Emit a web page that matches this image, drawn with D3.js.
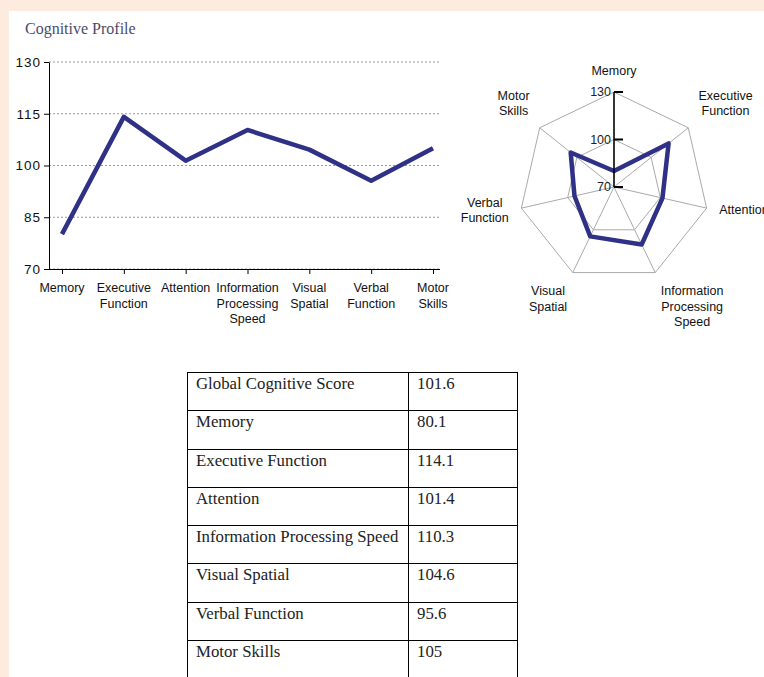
<!DOCTYPE html>
<html lang="en">
  <head>
    <meta charset="utf-8">
    <title>Cognitive Profile</title>
    <script src="https://cdn.jsdelivr.net/npm/d3@7"></script>
    <style>
      body { margin: 0; background: #fdebe0; overflow: hidden; }
      #panel { position: absolute; left: 9px; top: 11px; width: 800px; height: 700px; background: #fff; }
      #title { position: absolute; left: 16px; top: 9px; font: 16px "Liberation Serif", serif; color: #4b4b6b; }
      svg { position: absolute; left: 0; top: 0; }
      table { position: absolute; left: 187px; top: 372px; border-collapse: collapse;
              font: 16.8px "Liberation Serif", serif; color: #222; }
      td { border: 1px solid #000; height: 38.3px; padding: 1px 8px 0 8px; vertical-align: top;
           box-sizing: border-box; white-space: nowrap; }
    </style>
  </head>
  <body>
    <div id="panel"><div id="title">Cognitive Profile</div></div>
    <script>
      // data
      var domains = ["Memory", "Executive Function", "Attention", "Information Processing Speed",
                     "Visual Spatial", "Verbal Function", "Motor Skills"];
      var lineLabels = [["Memory"], ["Executive", "Function"], ["Attention"], ["Information", "Processing", "Speed"],
                        ["Visual", "Spatial"], ["Verbal", "Function"], ["Motor", "Skills"]];
      var scores = [80.1, 114.1, 101.4, 110.3, 104.6, 95.6, 105];
      var yTicks = [70, 85, 100, 115, 130];
      var radarTicks = [70, 100, 130];
      var tableLabels = ["Global Cognitive Score", "Memory", "Executive Function", "Attention",
                         "Information Processing Speed", "Visual Spatial", "Verbal Function", "Motor Skills"];
      var tableValues = ["101.6", "80.1", "114.1", "101.4", "110.3", "104.6", "95.6", "105"];

      var lineColor = "#2e3185";
      var sans = '"Liberation Sans", Arial, sans-serif';

      var svg = d3.select("body").append("svg")
                  .attr("width", 764)
                  .attr("height", 677);

      // ---- line chart ----
      var x = d3.scalePoint().domain(domains).range([62, 433]);
      var y = d3.scaleLinear().domain([70, 130]).range([269, 62]);

      svg.append("g").selectAll("line")
         .data(yTicks)
         .enter().append("line")
         .attr("x1", 49).attr("x2", 440)
         .attr("y1", function(d) { return y(d); })
         .attr("y2", function(d) { return y(d); })
         .attr("stroke", "#999")
         .attr("stroke-dasharray", "2,2");

      var yAxis = svg.append("g")
         .attr("transform", "translate(49,0)")
         .call(d3.axisLeft(y).tickValues(yTicks).tickSize(5).tickSizeOuter(0));
      yAxis.select(".domain").attr("stroke", "#000");
      yAxis.selectAll("text")
         .style("font", "13.5px " + sans)
         .style("letter-spacing", "1px")
         .attr("x", -8)
         .attr("fill", "#111");

      var xAxis = svg.append("g")
         .attr("transform", "translate(0,269)")
         .call(d3.axisBottom(x).tickSize(5).tickSizeOuter(0).tickFormat(""));
      xAxis.select(".domain").remove();
      svg.append("line")
         .attr("x1", 49).attr("x2", 440)
         .attr("y1", 269.5).attr("y2", 269.5)
         .attr("stroke", "#000");

      var xl = svg.append("g").selectAll("text")
         .data(domains)
         .enter().append("text")
         .attr("x", function(d) { return x(d); })
         .attr("y", 292)
         .attr("text-anchor", "middle")
         .style("font", "12.5px " + sans)
         .attr("fill", "#111");
      xl.each(function(d, i) {
        var t = d3.select(this);
        lineLabels[i].forEach(function(s, j) {
          t.append("tspan").attr("x", x(d)).attr("dy", j === 0 ? 0 : 15.5).text(s);
        });
      });

      svg.append("path")
         .datum(scores)
         .attr("fill", "none")
         .attr("stroke", lineColor)
         .attr("stroke-width", 4.5)
         .attr("stroke-linejoin", "round")
         .attr("d", d3.line()
            .x(function(d, i) { return x(domains[i]); })
            .y(function(d) { return y(d); }));

      // ---- radar chart ----
      var cx = 614, cy = 187;
      var r = d3.scaleLinear().domain([70, 130]).range([0, 95]);
      var angle = d3.scalePoint().domain(domains).range([0, 2 * Math.PI * 6 / 7]);
      function px(d, v) { return cx + r(v) * Math.sin(angle(d)); }
      function py(d, v) { return cy - r(v) * Math.cos(angle(d)); }

      var radar = svg.append("g");
      [100, 130].forEach(function(v) {
        radar.append("polygon")
             .attr("points", domains.map(function(d) { return px(d, v) + "," + py(d, v); }).join(" "))
             .attr("fill", "none")
             .attr("stroke", "#aaa");
      });
      radar.selectAll(".spoke")
           .data(domains)
           .enter().append("line")
           .attr("x1", cx).attr("y1", cy)
           .attr("x2", function(d) { return px(d, 130); })
           .attr("y2", function(d) { return py(d, 130); })
           .attr("stroke", "#aaa");

      radar.append("polygon")
           .attr("points", domains.map(function(d, i) { return px(d, scores[i]) + "," + py(d, scores[i]); }).join(" "))
           .attr("fill", "none")
           .attr("stroke", lineColor)
           .attr("stroke-width", 4.5)
           .attr("stroke-linejoin", "round");

      // vertical value axis
      radar.append("line")
           .attr("x1", cx).attr("x2", cx)
           .attr("y1", cy).attr("y2", cy - r(130))
           .attr("stroke", "#000").attr("stroke-width", 1.5);
      radar.selectAll(".rtick")
           .data(radarTicks)
           .enter().append("line")
           .attr("x1", cx).attr("x2", cx + 9)
           .attr("y1", function(d) { return cy - r(d); })
           .attr("y2", function(d) { return cy - r(d); })
           .attr("stroke", "#000").attr("stroke-width", 2);
      radar.selectAll(".rlabel")
           .data(radarTicks)
           .enter().append("text")
           .attr("x", cx - 3)
           .attr("y", function(d) { return cy - r(d) + 4; })
           .attr("text-anchor", "end")
           .style("font", "12.5px " + sans)
           .attr("fill", "#222")
           .text(function(d) { return d; });

      // axis labels, pushed outward from the vertex
      var lab = radar.selectAll(".alabel")
           .data(domains)
           .enter().append("text")
           .attr("text-anchor", "middle")
           .style("font", "12.5px " + sans)
           .attr("fill", "#111");
      lab.each(function(d, i) {
        var t = d3.select(this);
        var lines = lineLabels[i];
        lines.forEach(function(s, j) {
          t.append("tspan").attr("dy", j === 0 ? 0 : 15.5).text(s);
        });
        var w = 0;
        t.selectAll("tspan").each(function() { w = Math.max(w, this.getComputedTextLength()); });
        var a = angle(d), s = Math.sin(a), c = Math.cos(a);
        var ax = cx + 108 * s, ay = cy - 108 * c;
        var h = lines.length * 15.5;
        var bx = ax + (Math.abs(s) > 0.1 ? Math.sign(s) * w / 2 : 0);
        var by = ay + (Math.abs(c) > 0.5 ? -Math.sign(c) * h / 2 : 0);
        var top = by - h / 2;
        t.selectAll("tspan").attr("x", bx);
        t.attr("y", top + 11);
      });

      // ---- score table ----
      var table = d3.select("body").append("table");
      var rows = table.selectAll("tr")
           .data(tableLabels)
           .enter().append("tr");
      rows.append("td").style("width", "221px").text(function(d) { return d; });
      rows.append("td").style("width", "109px").text(function(d, i) { return tableValues[i]; });
    </script>
  </body>
</html>
